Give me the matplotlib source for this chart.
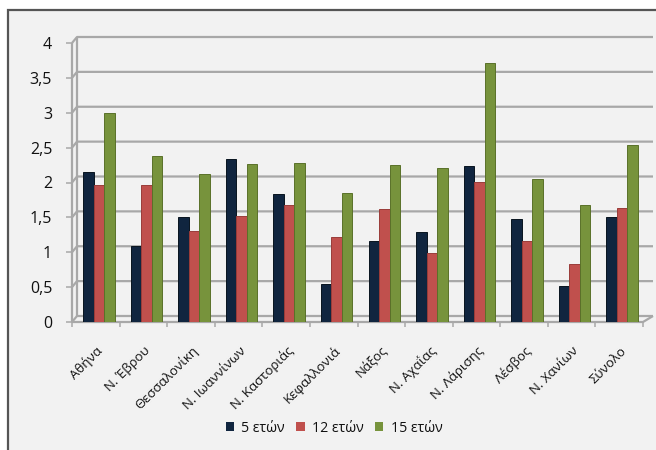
import numpy as np
import matplotlib.pyplot as plt
from matplotlib.patches import Rectangle, Patch
from matplotlib.transforms import ScaledTranslation

plt.rcParams['font.family'] = ['Open Sans', 'DejaVu Sans']

regions = ['Αθήνα', 'Ν. Έβρου', 'Θεσσαλονίκη', 'Ν. Ιωαννίνων', 'Ν. Καστοριάς',
           'Κεφαλλονιά', 'Νάξος', 'Ν. Αχαΐας', 'Ν. Λάρισης', 'Λέσβος',
           'Ν. Χανίων', 'Σύνολο']
age_5 = [2.15, 1.09, 1.51, 2.34, 1.84, 0.55, 1.16, 1.29, 2.24, 1.48, 0.52, 1.51]
age_12 = [1.97, 1.97, 1.31, 1.52, 1.68, 1.22, 1.62, 0.99, 2.01, 1.16, 0.83, 1.64]
age_15 = [3.00, 2.38, 2.12, 2.27, 2.28, 1.85, 2.25, 2.21, 3.72, 2.05, 1.68, 2.54]
series_labels = ['5 ετών', '12 ετών', '15 ετών']
y_ticks = [0, 0.5, 1, 1.5, 2, 2.5, 3, 3.5, 4]
y_tick_labels = ['0', '0,5', '1', '1,5', '2', '2,5', '3', '3,5', '4']

colors = ['#10253f', '#c0504d', '#77933c']
edges = ['#08141f', '#9a3c39', '#5a7129']
grid = '#a8a8a8'

W, H = 656, 450
fig = plt.figure(figsize=(W / 100, H / 100), dpi=100)
fig.patch.set_facecolor('white')
# chart area frame, running off the right and bottom edges
fig.add_artist(Rectangle((8 / W, -0.05), 1.1, 440 / H + 0.05, transform=fig.transFigure,
                         fc='#f2f2f2', ec='#555555', lw=1.6, zorder=0))

ax_px = (72, 128, 571, 279)
ax = fig.add_axes([ax_px[0] / W, ax_px[1] / H, ax_px[2] / W, ax_px[3] / H])
ax.set_facecolor('none')
n = len(regions)
ax.set_xlim(-0.5, n - 0.5)
ax.set_ylim(0, 4)
for s in ax.spines.values():
    s.set_visible(False)

# pixel -> data conversion for the fake 3D depth of the walls
px_x = n / ax_px[2]
px_y = 4 / ax_px[3]
dxl, dxr, dy = 5 * px_x, 10 * px_x, 6 * px_y
x0, x1 = -0.5, n - 0.5

line_kw = dict(color=grid, lw=1.6, clip_on=False, zorder=1, solid_capstyle='butt')
for v in y_ticks:
    ax.plot([x0, x0 + dxl, x1 + dxr], [v, v + dy, v + dy], **line_kw)
ax.plot([x0, x0], [0, 4], **line_kw)
ax.plot([x0 + dxl, x0 + dxl], [dy, 4 + dy], **line_kw)
ax.plot([x0, x1, x1 + dxr], [0, 0, dy], **line_kw)

x = np.arange(n)
bw = 10.5 * px_x
shift = 3 * px_x
for i, vals in enumerate([age_5, age_12, age_15]):
    ax.bar(x + shift + (i - 1) * bw, vals, width=bw, color=colors[i],
           edgecolor=edges[i], linewidth=0.7, zorder=3)

ax.set_yticks(y_ticks, y_tick_labels)
ax.tick_params(axis='y', length=4.3, width=1.1, color=grid, pad=10,
               labelsize=11.5, labelcolor='#111111')
ax.set_xticks(x, regions)
ax.set_xticks(np.arange(-0.5, n, 1), minor=True)
ax.tick_params(axis='x', which='major', length=0, pad=15, labelsize=9.5,
               labelcolor='#111111')
ax.tick_params(axis='x', which='minor', length=3.6, width=1.1, color=grid)
nudge = ScaledTranslation(5 / 100, -6 / 100, fig.dpi_scale_trans)
for lab in ax.get_xticklabels():
    lab.set_rotation(45)
    lab.set_ha('right')
    lab.set_va('center')
    lab.set_rotation_mode('anchor')
    lab.set_transform(lab.get_transform() + nudge)

handles = [Patch(facecolor=c, edgecolor='none') for c in colors]
fig.legend(handles, series_labels, loc='center', bbox_to_anchor=(334 / W, 1 - 428 / H),
           ncol=3, frameon=False, handlelength=0.6, handleheight=0.6,
           handletextpad=0.5, columnspacing=0.8, fontsize=10.2, labelcolor='#111111')

fig.savefig('out.png', dpi=100)
